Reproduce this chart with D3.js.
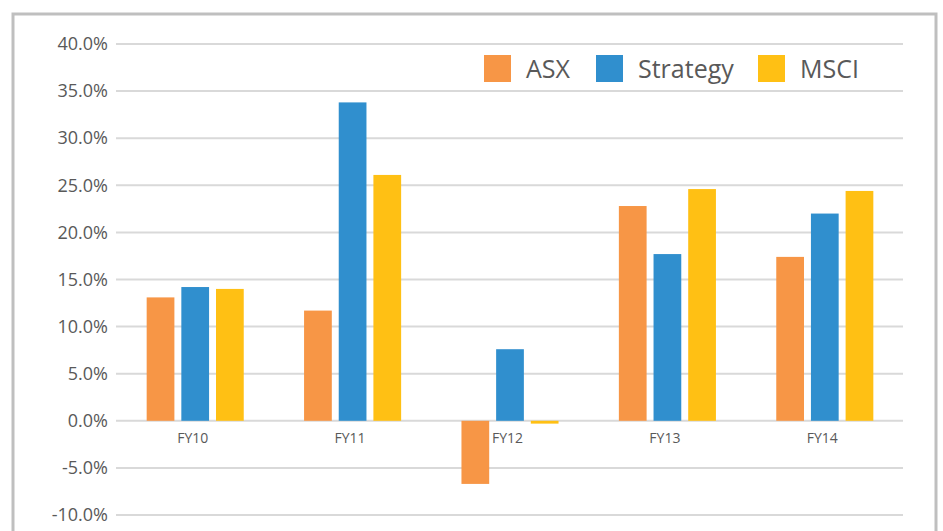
<!DOCTYPE html>
<html>
<head>
<meta charset="utf-8">
<script src="https://cdn.jsdelivr.net/npm/d3@7"></script>
<style>
  body { margin: 0; background: #fff; }
  text { font-family: "Open Sans", "Noto Sans", sans-serif; fill: #595959; }
</style>
</head>
<body>
<div id="chart"></div>
<script>
const categories = ["FY10", "FY11", "FY12", "FY13", "FY14"];
const seriesNames = ["ASX", "Strategy", "MSCI"];
const asx = [13.1, 11.7, -6.7, 22.8, 17.4];
const strategy = [14.2, 33.8, 7.6, 17.7, 22.0];
const msci = [14.0, 26.1, -0.3, 24.6, 24.4];
const yTicks = [-10, -5, 0, 5, 10, 15, 20, 25, 30, 35, 40];
const colors = ["#F79646", "#308FCE", "#FFC014"];

const width = 943, height = 531;
const seriesValues = [asx, strategy, msci];

const svg = d3.select("#chart").append("svg")
  .attr("width", width)
  .attr("height", height);

// frame
svg.append("rect")
  .attr("x", 13).attr("y", 14)
  .attr("width", 923).attr("height", 540)
  .attr("fill", "none")
  .attr("stroke", "#bfbfbf")
  .attr("stroke-width", 3);

const x = d3.scaleBand().domain(categories).range([116, 903]);
const xInner = d3.scaleBand().domain(seriesNames).range([0, 104]).paddingInner(0.2).paddingOuter(0.1);
const y = d3.scaleLinear().domain([-10, 40]).range([515, 44]);

// gridlines
svg.append("g")
  .selectAll("line")
  .data(yTicks)
  .enter()
  .append("line")
  .attr("x1", 116).attr("x2", 903)
  .attr("y1", d => y(d)).attr("y2", d => y(d))
  .attr("stroke", "#d9d9d9")
  .attr("stroke-width", 2);

// y labels
const yAxis = svg.append("g")
  .attr("transform", "translate(108,0)")
  .call(d3.axisLeft(y).tickValues(yTicks).tickSize(0).tickFormat(d => d.toFixed(1) + "%"));
yAxis.select(".domain").remove();
yAxis.selectAll("text")
  .attr("x", 0)
  .style("font-size", "18px")
  .style("font-family", "'Open Sans', 'Noto Sans', sans-serif")
  .attr("fill", "#595959");

// bars
const groups = svg.selectAll(".group")
  .data(categories)
  .enter()
  .append("g")
  .attr("class", "group")
  .attr("transform", d => `translate(${x(d) + x.bandwidth() / 2 - 51.5}, 0)`);

groups.selectAll("rect")
  .data((d, i) => seriesNames.map((s, j) => ({ s, v: seriesValues[j][i], c: colors[j] })))
  .enter()
  .append("rect")
  .attr("x", d => xInner(d.s))
  .attr("width", xInner.bandwidth())
  .attr("y", d => y(Math.max(0, d.v)))
  .attr("height", d => Math.abs(y(d.v) - y(0)))
  .attr("fill", d => d.c);

// category labels
svg.append("g")
  .selectAll("text")
  .data(categories)
  .enter()
  .append("text")
  .attr("x", d => x(d) + x.bandwidth() / 2 - 2)
  .attr("y", 443)
  .attr("text-anchor", "middle")
  .style("font-size", "14px")
  .text(d => d);

// legend
const legendX = [484, 596, 758];
const legend = svg.append("g");
seriesNames.forEach((name, i) => {
  legend.append("rect")
    .attr("x", legendX[i]).attr("y", 55)
    .attr("width", 27).attr("height", 27)
    .attr("fill", colors[i]);
  legend.append("text")
    .attr("x", legendX[i] + 42).attr("y", 78)
    .style("font-size", "25px")
    .text(name);
});
</script>
</body>
</html>
